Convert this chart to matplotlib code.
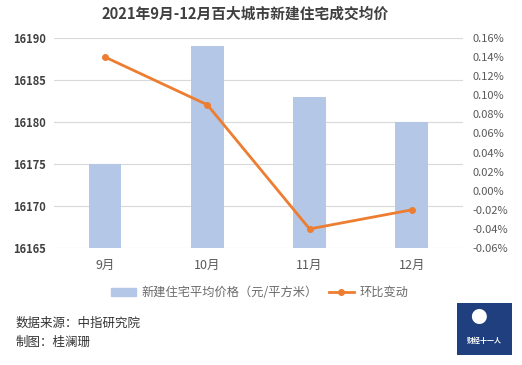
import matplotlib
matplotlib.use("Agg")
import matplotlib.pyplot as plt
from matplotlib.patches import Rectangle, FancyBboxPatch
from matplotlib.ticker import FuncFormatter
from matplotlib.lines import Line2D

plt.rcParams['font.family'] = ['Noto Sans CJK SC', 'DejaVu Sans']

categories = ['9月', '10月', '11月', '12月']
prices = [16175, 16189, 16183, 16180]
mom_change = [0.14, 0.09, -0.04, -0.02]
left_ticks = [16165, 16170, 16175, 16180, 16185, 16190]
right_ticks = [-0.06, -0.04, -0.02, 0.0, 0.02, 0.04, 0.06, 0.08, 0.10, 0.12, 0.14, 0.16]

bar_color = '#b4c7e7'
line_color = '#ed7d31'
grid_color = '#d9d9d9'
text_color = '#595959'

fig = plt.figure(figsize=(5.22, 3.65), dpi=100)
ax = fig.add_axes([0.1034, 0.3205, 0.7835, 0.5754])
x = list(range(len(categories)))
ax.bar(x, prices, width=0.32, color=bar_color, zorder=2)
ax.set_ylim(16165, 16190)
ax.set_xlim(-0.5, 3.5)
ax.set_yticks(left_ticks)
ax.yaxis.grid(True, color=grid_color, linewidth=0.8, zorder=0)
ax.set_xticks(x)
ax.set_xticklabels(categories)
for s in ax.spines.values():
    s.set_visible(False)
ax.tick_params(axis='both', length=0, colors=text_color, labelsize=8)
ax.tick_params(axis='x', pad=8, labelsize=9)
ax.tick_params(axis='y', pad=6)
for lbl in ax.get_yticklabels():
    lbl.set_fontweight('bold')
    lbl.set_color('#404040')

ax2 = ax.twinx()
ax2.plot(x, mom_change, color=line_color, linewidth=2, marker='o', markersize=4, zorder=3)
ax2.set_ylim(-0.06, 0.16)
ax2.set_yticks(right_ticks)
ax2.yaxis.set_major_formatter(FuncFormatter(lambda v, p: f'{v:.2f}%'))
for s in ax2.spines.values():
    s.set_visible(False)
ax2.tick_params(axis='y', length=0, colors=text_color, labelsize=8, pad=7)

fig.text(0.47, 0.962, '2021年9月-12月百大城市新建住宅成交均价', ha='center', va='center',
         fontsize=10.6, fontweight='bold', color='#404040')

handles = [Rectangle((0, 0), 1, 1, color=bar_color),
           Line2D([0], [0], color=line_color, linewidth=2, marker='o', markersize=4)]
fig.legend(handles, ['新建住宅平均价格（元/平方米）', '环比变动'], loc='center',
           bbox_to_anchor=(0.498, 0.198), ncol=2, frameon=False, fontsize=8.8,
           labelcolor='#6a6a6a', handlelength=2.0, columnspacing=0.9, handletextpad=0.5)

fig.text(0.029, 0.113, '数据来源：中指研究院', fontsize=9, color='#333333', va='center')
fig.text(0.029, 0.061, '制图：桂澜珊', fontsize=9, color='#333333', va='center')

logo = FancyBboxPatch((457/522, 10/365), 55/522, 52/365, boxstyle='square,pad=0',
                      transform=fig.transFigure, facecolor='#1f3f7f', edgecolor='none')
fig.patches.append(logo)
fig.text(484.5/522, 25/365, '财经十一人', fontsize=5, color='white', ha='center', va='center',
         fontweight='bold')
fig.text(478/522, 47/365, '●', fontsize=12, color='white', ha='center', va='center')

fig.savefig('out.png', dpi=100)
